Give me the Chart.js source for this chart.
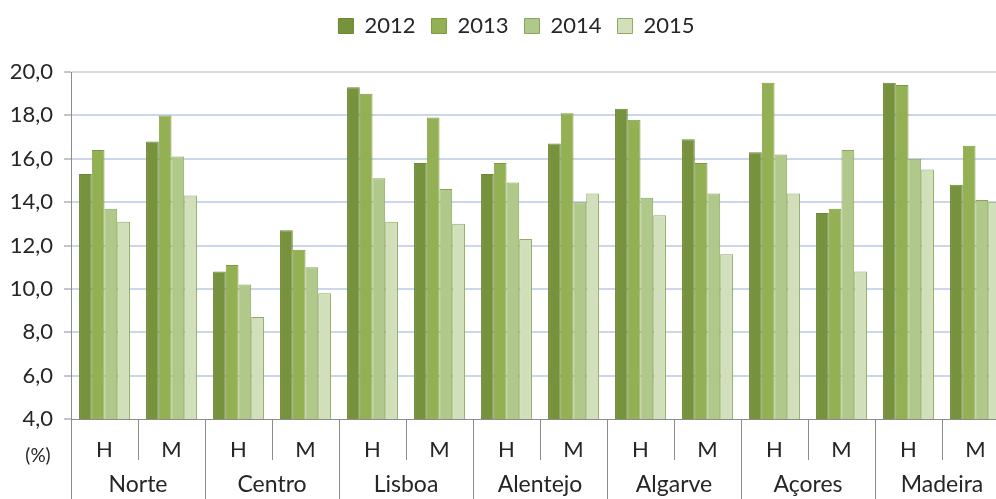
<!DOCTYPE html>
<html>
<head>
<meta charset="utf-8">
<script src="https://cdn.jsdelivr.net/npm/chart.js@4"></script>
<style>
  html, body { margin: 0; padding: 0; background: #fff; overflow: hidden; }
  #wrap { position: absolute; left: 0; top: 0; width: 1015px; height: 499px; }
</style>
</head>
<body>
<div id="wrap"><canvas id="myChart"></canvas></div>
<script>
// Données (taux en %, par région et sexe)
const regions = ['Norte', 'Centro', 'Lisboa', 'Alentejo', 'Algarve', 'Açores', 'Madeira'];
const sexes = ['H', 'M'];
const years = ['2012', '2013', '2014', '2015'];
const v2012 = [15.3, 16.8, 10.8, 12.7, 19.3, 15.8, 15.3, 16.7, 18.3, 16.9, 16.3, 13.5, 19.5, 14.8];
const v2013 = [16.4, 18.0, 11.1, 11.8, 19.0, 17.9, 15.8, 18.1, 17.8, 15.8, 19.5, 13.7, 19.4, 16.6];
const v2014 = [13.7, 16.1, 10.2, 11.0, 15.1, 14.6, 14.9, 14.0, 14.2, 14.4, 16.2, 16.4, 16.0, 14.1];
const v2015 = [13.1, 14.3, 8.7, 9.8, 13.1, 13.0, 12.3, 14.4, 13.4, 11.6, 14.4, 10.8, 15.5, 14.0];
const yTicks = [4, 6, 8, 10, 12, 14, 16, 18, 20];

const fills = ['#77923d', '#93b052', '#b0c98a', '#d1dfbb'];
const borders = ['#6c8636', '#7c9a40', '#86a556', '#8fab5e'];
const series = [v2012, v2013, v2014, v2015];

var labels = [];
regions.forEach(function() { sexes.forEach(function(s) { labels.push(s); }); });

var fontName = 'Lato, "Open Sans", sans-serif';
var axisGrey = '#8c8c8c';

// légende : hauteur forcée (haut du graphique) et léger décalage à droite
const legendTweak = {
  id: 'legendTweak',
  beforeInit(chart) {
    const lg = chart.legend;
    const origFit = lg.fit;
    const origDraw = lg.draw;
    lg.fit = function() {
      origFit.bind(lg)();
      this.height = 73;
    };
    lg.draw = function() {
      chart.ctx.save();
      chart.ctx.translate(12, 0);
      origDraw.bind(lg)();
      chart.ctx.restore();
    };
  }
};

// dessine les séparateurs et les noms de régions sous l'axe
const groupAxis = {
  id: 'groupAxis',
  afterDraw(chart) {
    const ctx = chart.ctx;
    const x = chart.scales.x;
    const area = chart.chartArea;
    const n = labels.length;
    const w = (x.right - x.left) / n;
    ctx.save();
    ctx.strokeStyle = axisGrey;
    ctx.lineWidth = 1;
    for (let i = 0; i <= n; i++) {
      let px = Math.round(x.left + i * w) + 0.5;
      let bottom = (i % 2 === 0) ? chart.height : area.bottom + 41;
      ctx.beginPath();
      ctx.moveTo(px, area.bottom);
      ctx.lineTo(px, bottom);
      ctx.stroke();
    }
    ctx.fillStyle = '#262626';
    ctx.font = '23px ' + fontName;
    ctx.textAlign = 'center';
    ctx.textBaseline = 'middle';
    for (let g = 0; g < regions.length; g++) {
      let cx = x.left + (g * 2 + 1) * w;
      ctx.fillText(regions[g], cx, area.bottom + 66);
    }
    ctx.font = '19px ' + fontName;
    ctx.fillText('(%)', 38, area.bottom + 37);
    ctx.restore();
  }
};

var datasets = [];
for (let i = 0; i < years.length; i++) {
  datasets.push({
    label: years[i],
    data: series[i],
    backgroundColor: fills[i],
    borderColor: borders[i],
    borderWidth: 1,
    borderSkipped: 'bottom',
    categoryPercentage: 0.76,
    barPercentage: 1.0
  });
}

var ctx = document.getElementById('myChart').getContext('2d');
var myChart = new Chart(ctx, {
  type: 'bar',
  data: { labels: labels, datasets: datasets },
  options: {
    responsive: true,
    maintainAspectRatio: false,
    animation: false,
    layout: { padding: { top: -1, right: 6, left: 0, bottom: 0 } },
    plugins: {
      legend: {
        position: 'top',
        labels: {
          font: { family: fontName, size: 22 },
          color: '#262626',
          boxWidth: 15,
          boxHeight: 15,
          padding: 16
        }
      },
      tooltip: { enabled: false }
    },
    scales: {
      x: {
        grid: { display: false },
        border: { display: true, color: axisGrey },
        ticks: {
          font: { family: fontName, size: 22 },
          color: '#262626',
          padding: 10,
          maxRotation: 0,
          autoSkip: false
        },
        afterFit: function(scale) { scale.height = 80; }
      },
      y: {
        min: 4,
        max: 20,
        afterBuildTicks: function(scale) {
          scale.ticks = yTicks.map(function(v) { return { value: v }; });
        },
        grid: {
          color: function(c) {
            if (c.tick && c.tick.value === 20) return '#d9d9d9';
            if (c.tick && c.tick.value === 4) return 'rgba(0,0,0,0)';
            return '#ccd6ea';
          },
          lineWidth: 2,
          tickColor: axisGrey,
          tickLength: 7,
          tickWidth: 1
        },
        border: { display: true, color: axisGrey },
        ticks: {
          font: { family: fontName, size: 22 },
          color: '#262626',
          padding: 11,
          callback: function(v) { return v.toFixed(1).replace('.', ','); }
        },
        afterFit: function(scale) { scale.width = 71; }
      }
    }
  },
  plugins: [legendTweak, groupAxis]
});
</script>
</body>
</html>
